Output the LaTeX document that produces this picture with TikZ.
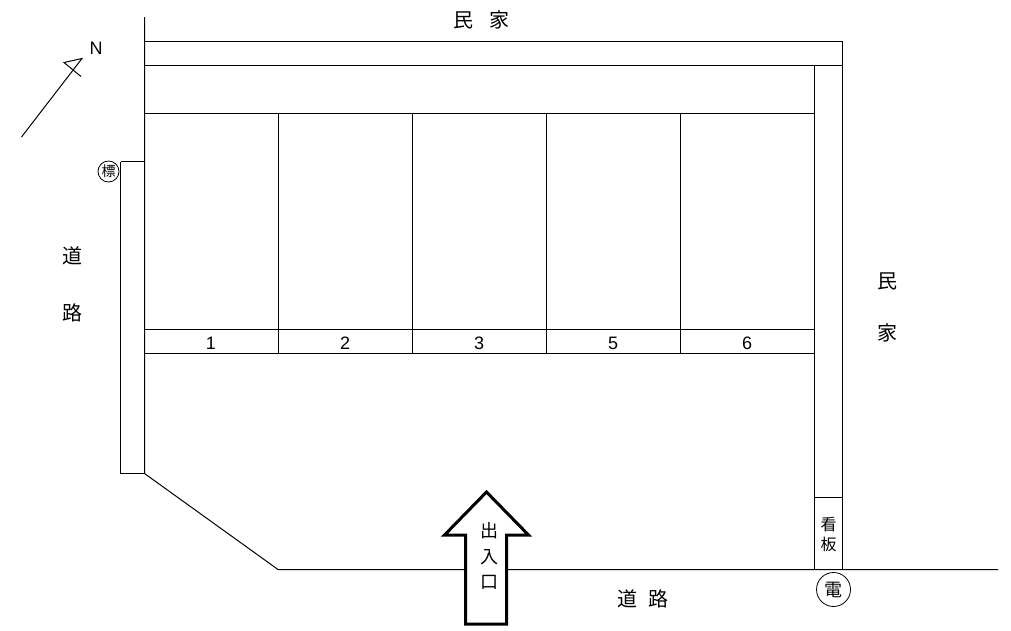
\documentclass[tikz,border=0pt]{standalone}
\usepackage{fontspec}
\setmainfont{Liberation Sans}
\newfontfamily\jpfont{Noto Sans CJK JP}
\tikzset{
  lot/.style={inner sep=0pt, font=\fontsize{18}{18}\selectfont},
  kanji/.style={inner sep=0pt, font=\jpfont\fontsize{20}{20}\selectfont},
  door kanji/.style={inner sep=0pt, font=\jpfont\fontsize{18}{18}\selectfont},
  small kanji/.style={inner sep=0pt, font=\jpfont\fontsize{16}{16}\selectfont}
}

\begin{document}
\begin{tikzpicture}[x=1pt, y=-1pt, line width=1pt]

  \useasboundingbox (0, 0) rectangle (1011, 630);

  % boundary
  \draw (144.5, 17) -- (144.5, 473.5) -- (278, 569.5) -- (998, 569.5);
  \draw (120.5, 161.5) -- (144.5, 161.5);
  \draw (120.5, 161.5) -- (120.5, 473.5) -- (144.5, 473.5);
  \draw (144.5, 41.5) -- (842.5, 41.5) -- (842.5, 569.5);
  \draw (144.5, 65.5) -- (814.5, 65.5) -- (814.5, 569.5);
  \draw (814.5, 65.5) -- (842.5, 65.5);
  \draw (814.5, 497.5) -- (842.5, 497.5);

  % lots
  \draw (144.5, 113.5) -- (814.5, 113.5);
  \draw (144.5, 329.5) -- (814.5, 329.5);
  \draw (144.5, 353.5) -- (814.5, 353.5);
  \draw (278.5, 113.5) -- (278.5, 353.5);
  \draw (412.5, 113.5) -- (412.5, 353.5);
  \draw (546.5, 113.5) -- (546.5, 353.5);
  \draw (680.5, 113.5) -- (680.5, 353.5);

  \node[lot] (lot1) at (211, 343.5) {1};
  \node[lot] (lot2) at (345, 343.5) {2};
  \node[lot] (lot3) at (479, 343.5) {3};
  \node[lot] (lot5) at (613, 343.5) {5};
  \node[lot] (lot6) at (747, 343.5) {6};

  % north
  \draw (21.5, 137) -- (82, 58.5) -- (64, 62.5) -- (81, 76.5);
  \node[lot] (north) at (96, 48) {N};

  % entrance
  \draw[line width=3pt, fill=white, miter limit=10] (486.5, 492)
  -- ++(42, 43) -- ++(-22, 0) -- (506.5, 624) -- (465.5, 624)
  -- (465.5, 535) -- (444.5, 535) -- cycle;
  \node[door kanji] (de) at (489, 531) {出};
  \node[door kanji] (iri) at (489, 557) {入};
  \node[door kanji] (guchi) at (489, 582) {口};

  % neighbours and roads
  \node[kanji] (house1) at (463, 20) {民};
  \node[kanji] (house2) at (499, 20) {家};
  \node[kanji] (house3) at (887, 281) {民};
  \node[kanji] (house4) at (887, 333) {家};
  \node[kanji] (road1) at (72, 256) {道};
  \node[kanji] (road2) at (72, 313) {路};
  \node[kanji] (road3) at (627, 599) {道};
  \node[kanji] (road4) at (658, 599) {路};

  % sign and pole
  \node[small kanji] (sign1) at (828.5, 524) {看};
  \node[small kanji] (sign2) at (828.5, 544) {板};
  \node[draw, circle, minimum size=34pt, line width=0.8pt, door kanji] (pole) at (833.5, 589.5) {電};
  \node[draw, circle, minimum size=21pt, line width=0.8pt, inner sep=0pt,
    font=\jpfont\fontsize{14}{14}\selectfont] (mark) at (108.5, 171.5) {標};

\end{tikzpicture}
\end{document}
